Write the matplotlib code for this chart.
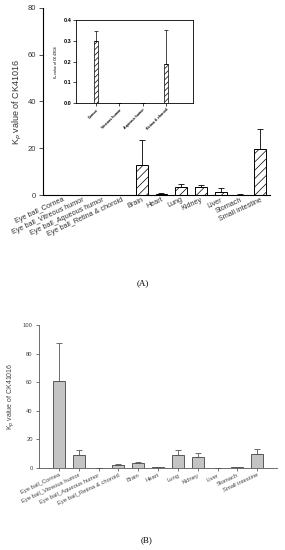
import matplotlib
matplotlib.use("Agg")
import matplotlib.pyplot as plt
import numpy as np

plt.rcParams['font.family'] = ['Liberation Sans', 'DejaVu Sans']
plt.rcParams['hatch.linewidth'] = 0.5

# Panel A data
cats = ["Eye ball_Cornea", "Eye ball_Vitreous humor", "Eye ball_Aqueous humor",
        "Eye ball_Retina & choroid", "Brain", "Heart", "Lung", "Kidney", "Liver",
        "Stomach", "Small intestine"]
a_vals = [0, 0, 0, 0, 12.7, 0.5, 3.6, 3.5, 1.1, 0.2, 19.6]
a_err = [0, 0, 0, 0, 10.8, 0.3, 1.1, 0.8, 2.0, 0.1, 8.8]

# Inset data
inset_cats = ["Cornea", "Vitreous humor", "Aqueous humor", "Retina & choroid"]
inset_vals = [0.30, 0, 0, 0.19]
inset_err = [0.047, 0, 0, 0.16]

# Panel B data
b_vals = [61.0, 8.6, 0, 2.1, 3.2, 0.3, 8.9, 7.3, 0, 0.5, 9.8]
b_err = [26.5, 3.8, 0, 0.7, 0.8, 0.2, 3.3, 2.8, 0, 0.3, 3.1]

W, H = 285, 550
fig = plt.figure(figsize=(W / 100, H / 100), dpi=100)

def rect(l, t, r, b):
    return [l / W, 1 - b / H, (r - l) / W, (b - t) / H]

def style(ax):
    for s in ['top', 'right']:
        ax.spines[s].set_visible(False)
    for s in ['left', 'bottom']:
        ax.spines[s].set_linewidth(0.8)

x = np.arange(len(cats))

# Panel A
axA = fig.add_axes(rect(43, 8, 270, 195))
axA.bar(x, a_vals, width=0.6, color='white', edgecolor='black', linewidth=0.7,
        hatch='////', zorder=2)
axA.errorbar(x, a_vals, yerr=[np.zeros(len(a_err)), a_err], fmt='none',
             ecolor='black', elinewidth=0.6, capsize=2.5, capthick=0.6, zorder=3)
axA.set_xlim(-1, 10.5)
axA.set_ylim(0, 80)
axA.set_yticks([0, 20, 40, 60, 80])
axA.tick_params(axis='y', labelsize=5.5, length=3, width=0.6, pad=2, colors='#333333')
axA.tick_params(axis='x', labelsize=5.2, length=0, pad=1, colors='#333333')
axA.set_xticks(x)
axA.set_xticklabels(cats, rotation=25, ha='right', rotation_mode='anchor')
axA.set_ylabel("K$_p$ value of CK41016", fontsize=6.5, labelpad=3, color='#333333')
style(axA)

# Inset
axI = fig.add_axes(rect(76, 20, 193, 103))
xi = np.arange(len(inset_cats))
axI.bar(xi, inset_vals, width=0.2, color='white', edgecolor='black', linewidth=0.5,
        hatch='//////', zorder=2)
axI.errorbar(xi, inset_vals, yerr=[np.zeros(len(inset_err)), inset_err], fmt='none',
             ecolor='black', elinewidth=0.5, capsize=1.2, capthick=0.5, zorder=3)
axI.set_xlim(-0.86, 4.16)
axI.set_ylim(0, 0.4)
axI.set_yticks([0.0, 0.1, 0.2, 0.3, 0.4])
axI.set_yticklabels(['0.0', '0.1', '0.2', '0.3', '0.4'], fontweight='bold')
axI.tick_params(axis='y', labelsize=4, length=2, width=0.5, pad=1.5)
axI.set_xticks(xi)
axI.set_xticklabels(inset_cats, rotation=45, ha='right', rotation_mode='anchor',
                    fontweight='bold')
axI.tick_params(axis='x', labelsize=2.6, length=2, width=0.5, pad=1.5)
axI.set_ylabel("K$_p$ value of CK41016", fontsize=2.5, labelpad=3)
for s in axI.spines.values():
    s.set_linewidth(0.6)

fig.text(143 / W, 1 - 283 / H, "(A)", ha='center', va='center', fontsize=6.5,
         family='Liberation Serif')

# Panel B
axB = fig.add_axes(rect(39, 325, 277, 467.7))
axB.bar(x, b_vals, width=0.6, color='#c4c4c4', edgecolor='#444444', linewidth=0.6,
        zorder=2)
axB.errorbar(x, b_vals, yerr=[np.zeros(len(b_err)), b_err], fmt='none',
             ecolor='#555555', elinewidth=0.6, capsize=2.2, capthick=0.6, zorder=3)
axB.set_xlim(-1, 11)
axB.set_ylim(0, 100)
axB.set_yticks([0, 20, 40, 60, 80, 100])
axB.tick_params(axis='y', labelsize=4.2, length=2.5, width=0.5, pad=2, colors='#444444')
axB.tick_params(axis='x', labelsize=4.2, length=2, width=0.5, pad=1.5, colors='#444444')
axB.set_xticks(x)
axB.set_xticklabels(cats, rotation=25, ha='right', rotation_mode='anchor')
axB.set_ylabel("K$_p$ value of CK41016", fontsize=5, labelpad=4, color='#444444')
style(axB)
for s in ['left', 'bottom']:
    axB.spines[s].set_linewidth(0.6)
    axB.spines[s].set_color('#555555')

fig.text(147 / W, 1 - 540 / H, "(B)", ha='center', va='center', fontsize=6.5,
         family='Liberation Serif')

fig.savefig("out.png", dpi=100)
